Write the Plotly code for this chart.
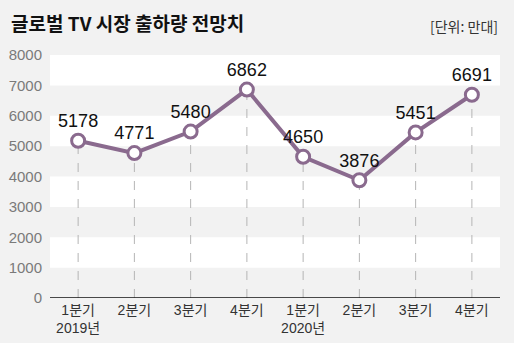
import plotly.graph_objects as go

quarters = ["1분기<br>2019년", "2분기", "3분기", "4분기", "1분기<br>2020년", "2분기", "3분기", "4분기"]
values = [5178, 4771, 5480, 6862, 4650, 3876, 5451, 6691]
y_ticks = [0, 1000, 2000, 3000, 4000, 5000, 6000, 7000, 8000]

idx = list(range(len(values)))
LINE = "#8a6a8e"
KFONT = "Noto Sans CJK KR"
NFONT = "Liberation Sans, Noto Sans CJK KR"

fig = go.Figure()

# dashed drop lines from each point down to the baseline
dx, dy = [], []
for i, v in zip(idx, values):
    dx += [i, i, None]
    dy += [0, v, None]
fig.add_trace(go.Scatter(x=dx, y=dy, mode="lines", hoverinfo="skip",
                         line=dict(color="#b5b5b5", width=1, dash="dash"),
                         showlegend=False))

fig.add_trace(go.Scatter(
    x=idx, y=values, mode="lines+markers+text",
    text=[str(v) for v in values], textposition="top center",
    textfont=dict(family=NFONT, size=18, color="#111111"),
    line=dict(color=LINE, width=4),
    marker=dict(size=13, color="white", line=dict(color=LINE, width=3)),
    showlegend=False, cliponaxis=False))

shapes = []
for lo in range(1000, 8000, 2000):
    shapes.append(dict(type="rect", xref="paper", yref="y", x0=0, x1=1,
                       y0=lo, y1=lo + 1000, fillcolor="white", line=dict(width=0),
                       layer="below"))
shapes.append(dict(type="line", xref="paper", yref="y", x0=0, x1=1, y0=0, y1=0,
                   line=dict(color="#111111", width=1.5)))

fig.update_layout(
    width=514, height=343,
    margin=dict(l=50, r=14, t=55, b=45),
    paper_bgcolor="#f2f2f2", plot_bgcolor="#f2f2f2",
    shapes=shapes,
    font=dict(family=NFONT),
    xaxis=dict(tickmode="array", tickvals=idx, ticktext=quarters,
               range=[-0.5, len(values) - 0.5], showgrid=False, zeroline=False,
               showline=False, ticks="", ticklabelstandoff=2, automargin=False,
               tickfont=dict(family=NFONT, size=14, color="#333333")),
    yaxis=dict(range=[0, 8000], tickvals=y_ticks, showgrid=False, zeroline=False,
               showline=False, ticks="", ticklabelstandoff=7, automargin=False,
               tickfont=dict(family=NFONT, size=15, color="#7a7a7a")),
    annotations=[
        dict(text="<b>글로벌 TV 시장 출하량 전망치</b>", xref="paper", yref="paper",
             x=0, xshift=-41, y=1, yshift=33, xanchor="left", yanchor="middle",
             showarrow=False, font=dict(family=KFONT, size=19, color="#111111")),
        dict(text="[단위: 만대]", xref="paper", yref="paper",
             x=1, xshift=0, y=1, yshift=29, xanchor="right", yanchor="middle",
             showarrow=False, font=dict(family=KFONT, size=14, color="#333333")),
    ],
)

fig.write_html("out.html")
